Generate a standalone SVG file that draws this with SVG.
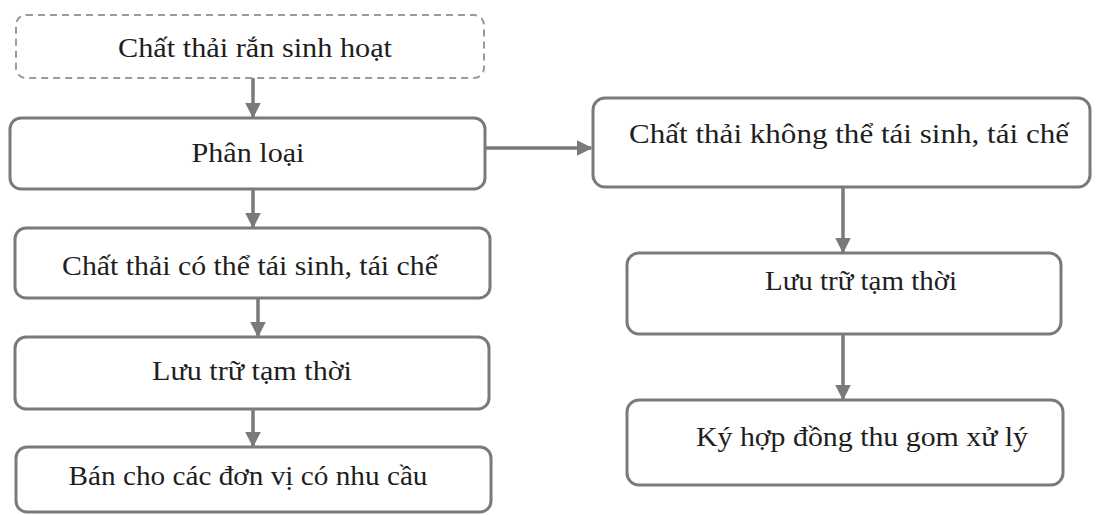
<svg xmlns="http://www.w3.org/2000/svg" width="1104" height="515" viewBox="0 0 1104 515">
  <defs>
    <marker id="head" viewBox="0 0 10 10" refX="9" refY="5" markerWidth="4.5" markerHeight="4.5" orient="auto" markerUnits="strokeWidth">
      <path d="M0,0 L10,5 L0,10 Z" fill="#7a7a7a"/>
    </marker>
    <style>
      .box { fill: #ffffff; stroke: #7a7a7a; stroke-width: 3; }
      .dash { fill: #ffffff; stroke: #9a9a9a; stroke-width: 2; stroke-dasharray: 7 5; }
      .lbl { font-family: "Liberation Serif", "Times New Roman", serif; font-size: 27px; fill: #1e1e1e; text-anchor: middle; }
      .link { stroke: #7a7a7a; stroke-width: 3.5; fill: none; marker-end: url(#head); }
    </style>
  </defs>
  <rect width="1104" height="515" fill="#ffffff"/>

  <g id="connectors">
    <line class="link" x1="253" y1="78" x2="253" y2="117"/>
    <line class="link" x1="253" y1="189" x2="253" y2="227"/>
    <line class="link" x1="258" y1="298" x2="258" y2="336"/>
    <line class="link" x1="253" y1="409" x2="253" y2="446"/>
    <line class="link" x1="486" y1="148" x2="591" y2="148"/>
    <line class="link" x1="843" y1="188" x2="843" y2="252"/>
    <line class="link" x1="843" y1="334" x2="843" y2="399"/>
  </g>

  <g id="n-source">
    <rect class="dash" x="16" y="15" width="468" height="63" rx="10"/>
    <text class="lbl" x="255" y="57" textLength="274" lengthAdjust="spacingAndGlyphs">Chất thải rắn sinh hoạt</text>
  </g>
  <g id="n-sort">
    <rect class="box" x="10" y="118" width="475" height="71" rx="11"/>
    <text class="lbl" x="248" y="162" textLength="113" lengthAdjust="spacingAndGlyphs">Phân loại</text>
  </g>
  <g id="n-recyclable">
    <rect class="box" x="15" y="228" width="475" height="70" rx="11"/>
    <text class="lbl" x="250" y="275" textLength="376" lengthAdjust="spacingAndGlyphs">Chất thải có thể tái sinh, tái chế</text>
  </g>
  <g id="n-store-left">
    <rect class="box" x="15" y="337" width="474" height="72" rx="11"/>
    <text class="lbl" x="252" y="380" textLength="200" lengthAdjust="spacingAndGlyphs">Lưu trữ tạm thời</text>
  </g>
  <g id="n-sell">
    <rect class="box" x="16" y="447" width="475" height="65" rx="11"/>
    <text class="lbl" x="248" y="485" textLength="359" lengthAdjust="spacingAndGlyphs">Bán cho các đơn vị có nhu cầu</text>
  </g>
  <g id="n-nonrecyclable">
    <rect class="box" x="593" y="98" width="497" height="89" rx="12"/>
    <text class="lbl" x="849" y="143" textLength="440" lengthAdjust="spacingAndGlyphs">Chất thải không thể tái sinh, tái chế</text>
  </g>
  <g id="n-store-right">
    <rect class="box" x="627" y="253" width="434" height="81" rx="12"/>
    <text class="lbl" x="861" y="290" textLength="192" lengthAdjust="spacingAndGlyphs">Lưu trữ tạm thời</text>
  </g>
  <g id="n-contract">
    <rect class="box" x="627" y="400" width="436" height="85" rx="12"/>
    <text class="lbl" x="862" y="446" textLength="332" lengthAdjust="spacingAndGlyphs">Ký hợp đồng thu gom xử lý</text>
  </g>
</svg>
